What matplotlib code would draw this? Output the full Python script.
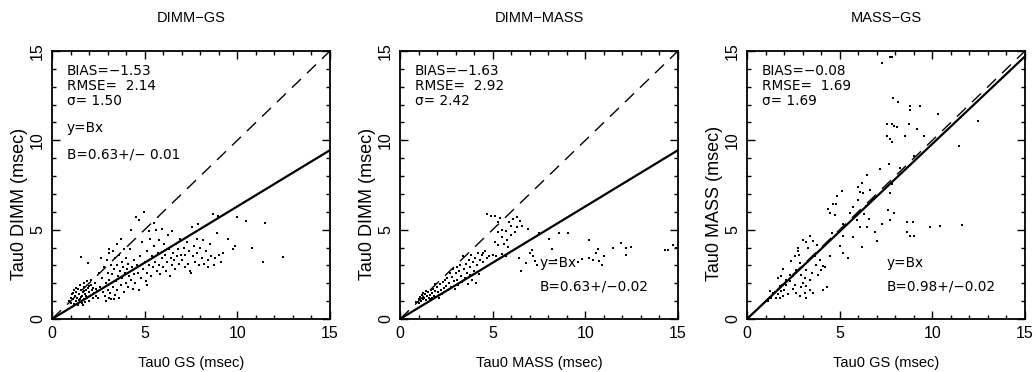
import matplotlib
matplotlib.use("Agg")
import matplotlib.pyplot as plt
from matplotlib.ticker import MultipleLocator
import numpy as np

plt.rcParams['font.family'] = ['Liberation Sans', 'DejaVu Sans']

titles = ["DIMM\u2212GS", "DIMM\u2212MASS", "MASS\u2212GS"]
xlabels = ["Tau0 GS (msec)", "Tau0 MASS (msec)", "Tau0 GS (msec)"]
ylabels = ["Tau0 DIMM (msec)", "Tau0 DIMM (msec)", "Tau0 MASS (msec)"]
bias = ["\u22121.53", "\u22121.63", "\u22120.08"]
rmse = ["2.14", "2.92", "1.69"]
sigma = ["1.50", "2.42", "1.69"]
slopes = [0.63, 0.63, 0.98]
slope_txt = ["B=0.63+/\u2212 0.01", "B=0.63+/\u22120.02", "B=0.98+/\u22120.02"]
tick_vals = [0, 5, 10, 15]

# Panel 1: DIMM vs GS
p1 = [
 (0.9,1.0),(1.0,1.2),(1.05,0.9),(1.1,1.4),(1.15,1.1),(1.2,1.6),(1.2,0.85),(1.25,1.3),(1.3,1.0),(1.3,1.5),
 (1.35,1.2),(1.4,1.7),(1.4,0.8),(1.45,1.4),(1.5,1.1),(1.5,1.9),(1.55,1.6),(1.6,0.9),(1.6,1.3),(1.65,1.5),
 (1.7,1.8),(1.7,1.1),(1.75,2.0),(1.8,1.4),(1.8,0.95),(1.85,1.6),(1.9,1.2),(1.9,2.1),(1.95,1.75),(2.0,1.5),
 (2.0,1.0),(2.05,1.3),(2.1,1.9),(2.1,2.2),(2.15,1.6),(2.2,1.2),(2.25,1.45),(2.3,2.0),(2.35,1.7),(2.4,1.3),
 (1.3,1.75),(1.55,1.25),(1.75,1.55),(2.0,1.85),(1.15,1.45),(1.45,1.05),(1.65,0.8),(1.85,1.3),(2.2,1.75),(2.45,1.55),
 (1.56,3.46),(1.92,3.16),
 (2.5,1.2),(2.55,2.6),(2.6,1.8),(2.7,2.3),(2.75,1.5),(2.8,2.9),(2.85,1.3),(2.9,2.0),(2.95,3.3),(3.0,1.6),
 (3.0,2.6),(3.05,1.2),(3.1,3.7),(3.1,2.2),(3.15,1.45),(3.2,3.0),(3.2,1.1),(3.25,2.5),(3.3,3.8),(3.3,1.8),
 (3.35,2.8),(3.4,1.35),(3.4,3.4),(3.45,2.1),(3.5,1.6),(3.5,3.0),(3.55,2.4),(3.6,3.6),(3.6,1.2),(3.65,2.7),
 (3.7,4.47),(3.7,1.9),(3.75,3.2),(3.8,2.3),(3.85,2.9),(3.9,1.5),(3.9,3.9),(3.95,2.6),(4.0,3.4),(4.0,2.0),
 (4.05,2.8),(4.1,1.8),(4.1,3.1),(4.15,2.4),(4.2,3.9),(4.25,2.2),(4.3,2.9),(4.35,1.7),(4.4,3.3),(4.45,2.5),
 (4.26,4.99),(3.51,4.18),(2.65,3.4),(2.9,1.0),(3.35,1.1),(3.05,3.9),
 (4.5,2.0),(4.54,5.69),(4.6,3.0),(4.65,2.6),(4.72,5.55),(4.75,3.5),(4.8,2.3),(4.85,4.3),(4.9,2.8),(4.99,5.97),
 (5.0,3.2),(5.05,2.1),(5.1,3.8),(5.15,2.6),(5.21,4.93),(5.25,3.0),(5.3,4.5),(5.35,2.4),(5.4,3.5),(5.45,2.9),
 (5.48,5.40),(5.5,4.1),(5.55,3.2),(5.59,4.99),(5.65,2.7),(5.7,3.7),(5.75,4.4),(5.8,3.0),(5.85,2.5),(5.93,5.06),
 (5.95,3.4),(6.0,2.9),(6.05,4.2),(6.1,3.6),(6.15,2.7),(6.2,3.2),(6.25,4.7),(6.3,3.9),(6.35,2.4),(6.4,3.4),
 (6.45,4.9),(6.5,3.0),(6.55,3.7),(6.6,3.3),(6.65,2.8),(6.7,4.2),(6.75,3.5),(6.8,3.9),(6.85,3.1),(6.9,4.5),
 (6.95,3.6),(5.1,1.9),(4.7,1.6),
 (7.0,3.3),(7.1,4.0),(7.15,2.9),(7.2,3.6),(7.3,4.3),(7.35,3.1),(7.4,3.8),(7.45,2.7),(7.54,5.17),(7.6,3.5),
 (7.65,4.1),(7.7,3.2),(7.8,4.5),(7.85,3.7),(7.9,5.32),(7.95,3.0),(8.0,4.0),(8.1,3.4),(8.15,4.4),(8.2,3.1),
 (8.3,3.8),(8.4,3.3),(8.5,4.2),(8.6,3.5),(8.71,5.88),(8.75,3.0),(8.8,3.4),(8.89,4.80),(8.93,5.77),(9.0,3.6),
 (9.1,3.2),(9.25,3.69),(9.47,4.47),(9.79,3.91),(9.90,4.09),(9.97,5.73),(8.4,2.9),(7.5,2.6),
 (10.47,5.51),(10.78,3.96),(11.41,3.20),(11.51,5.38),(12.45,3.46),
]

# Panel 2: DIMM vs MASS
p2 = [
 (0.85,0.95),(1.0,1.1),(1.05,0.9),(1.1,1.25),(1.15,1.0),(1.2,1.35),(1.25,1.1),(1.3,1.2),(1.35,1.4),(1.4,1.05),
 (1.45,1.3),(1.5,1.5),(1.55,1.2),(1.6,1.35),(1.65,1.6),(1.7,1.15),(1.75,1.45),(1.8,1.7),(1.85,1.3),(1.9,1.55),
 (1.95,1.25),(2.0,1.8),(2.05,1.5),(2.1,1.35),(2.15,1.95),(2.2,1.6),(2.25,1.4),(2.3,2.05),(2.35,1.75),(2.4,1.5),
 (2.45,2.2),(2.5,1.85),(1.25,1.45),(1.6,1.1),(1.9,1.95),(2.1,1.2),(1.4,1.55),
 (2.55,2.3),(2.6,1.6),(2.65,2.0),(2.7,2.6),(2.75,1.8),(2.8,2.35),(2.85,2.8),(2.9,2.1),(2.95,1.7),(3.0,2.55),
 (3.05,2.9),(3.1,2.2),(3.15,1.9),(3.2,2.7),(3.25,3.0),(3.3,2.4),(3.35,2.05),(3.4,3.5),(3.45,2.8),(3.5,2.3),
 (3.55,3.1),(3.6,2.6),(3.65,1.95),(3.7,3.3),(3.75,2.45),(3.8,2.9),(3.85,3.6),(3.9,2.2),(3.95,3.2),(4.0,2.7),
 (4.05,3.4),(4.1,2.0),(4.15,3.0),(4.2,3.7),(4.25,2.5),(4.3,3.3),(4.4,3.6),(4.5,3.2),(4.6,3.8),(4.7,3.4),
 (4.70,5.88),(4.9,5.75),(5.15,5.77),(5.42,5.64),(5.3,5.45),(5.87,5.45),(6.1,5.6),(6.3,5.7),(6.45,5.5),(6.0,5.2),
 (6.3,5.15),(6.6,5.2),(6.9,5.05),(5.51,4.99),(5.7,4.9),(5.3,4.87),(5.5,4.6),(5.8,4.4),(5.6,4.2),(5.85,4.05),
 (5.3,4.14),(6.0,4.7),(6.2,4.85),(5.1,4.3),(4.8,3.55),(5.0,3.6),(5.2,3.5),(5.5,3.65),(5.7,3.55),(4.49,3.69),
 (6.42,3.41),(6.54,2.66),(6.78,3.13),(7.14,3.87),(7.0,3.7),(7.2,3.5),(7.41,3.03),(7.3,3.25),(7.5,4.8),
 (8.04,4.47),(8.2,3.9),(8.58,4.84),(8.4,3.3),(9.04,4.80),(9.6,3.2),(9.8,3.35),(10.21,4.43),(10.21,3.41),(10.4,3.3),
 (10.57,3.69),(10.75,3.22),(10.7,3.9),(11.02,3.50),(10.9,3.05),(11.48,3.96),(11.93,4.24),(12.2,3.96),(12.46,4.05),(12.2,3.59),
 (14.28,3.87),(14.46,3.87),(14.73,4.15),(14.9,4.0),
]

# Panel 3: MASS vs GS
p3 = [
 (7.31,14.33),(7.71,14.67),(7.85,14.67),(7.89,12.38),(8.16,12.15),(8.79,11.91),(9.33,11.91),(8.79,11.69),
 (7.53,10.94),(7.8,10.9),(7.95,10.8),(8.07,10.76),(8.75,10.94),(8.52,10.24),(9.15,10.63),(7.53,10.24),
 (7.7,10.1),(7.85,9.92),(9.54,10.24),(10.32,11.48),(11.45,9.68),(12.48,11.09),(9.0,9.1),
 (7.2,8.39),(7.64,8.67),(8.25,8.47),(7.85,7.56),(7.71,7.04),(7.62,6.1),(7.71,5.55),(7.92,5.96),
 (8.61,5.42),(8.93,5.42),(8.61,4.89),(8.79,4.67),(9.0,4.62),(9.9,5.14),(10.44,5.23),(11.58,5.27),(7.31,5.32),
 (6.45,8.08),(6.18,7.59),(6.0,7.4),(6.63,7.22),(6.27,7.04),(6.72,6.66),(6.0,6.66),(6.1,7.1),(6.4,6.3),
 (5.1,7.18),(4.83,6.89),(4.65,6.44),(4.38,6.14),(4.47,5.92),(4.74,5.83),(4.8,6.45),
 (5.73,6.29),(5.55,5.92),(5.91,5.55),(6.09,5.17),(6.45,5.17),(6.9,4.89),(7.02,4.34),(6.3,5.9),(6.6,5.6),
 (5.73,4.58),(5.19,4.62),(5.01,4.06),(5.19,3.69),(5.46,3.41),(6.18,4.02),(5.19,5.30),(4.6,4.8),
 (2.75,4.0),(2.75,3.78),(3.03,4.43),(3.39,4.62),(3.57,4.34),(3.3,3.96),(3.75,4.15),(3.2,4.3),(2.8,3.6),
 (3.66,3.5),(3.93,3.31),(4.1,2.94),(4.0,2.75),(3.84,2.48),(4.29,1.79),(4.1,1.64),(4.5,3.5),(4.2,2.9),
 (3.39,2.2),(3.03,2.01),(3.21,1.82),(3.39,1.64),(3.57,1.45),(3.12,1.45),(2.67,1.45),(2.85,1.27),(3.21,1.17),
 (2.49,2.38),(2.31,2.1),(2.13,1.92),(1.77,1.82),(1.86,1.55),(1.68,1.41),(1.95,1.27),(1.59,1.17),(1.41,1.45),
 (1.23,1.55),(1.32,1.17),(1.14,0.99),(1.86,2.42),(1.68,2.29),(1.95,2.79),(2.13,2.2),(2.31,2.48),
 (2.4,3.22),(2.58,3.5),(2.85,3.13),(3.03,2.94),(3.21,2.75),(2.67,2.75),(2.94,2.48),(3.12,2.29),
 (2.0,1.6),(2.2,1.4),(1.9,1.9),(2.6,1.9),(3.5,2.6),(3.7,3.0),(2.5,1.7),(1.5,1.5),(1.8,1.2),(2.9,1.8),
]
data = [p1, p2, p3]

# y=Bx annotation positions (data coords) per panel
ybx_pos = [(0.8, 10.7), (7.55, 3.15), (7.55, 3.15)]
bval_pos = [(0.8, 9.2), (7.55, 1.8), (7.55, 1.8)]

W, H = 1036, 372
fig = plt.figure(figsize=(W / 100, H / 100), dpi=100)
lefts = [52, 400, 747]
ax_w, ax_h = 278, 268
ax_bottom_px = 319
txt_font = ['DejaVu Sans']
txt_size = 9.8

for i in range(3):
    ax = fig.add_axes([lefts[i] / W, (H - ax_bottom_px) / H, ax_w / W, ax_h / H])
    pts = np.array(data[i])
    ax.plot(pts[:, 0], pts[:, 1], linestyle='none', marker='s', ms=1.9,
            mfc='black', mec='black', mew=0)
    xx = np.array([0, 15])
    ax.plot(xx, xx, color='black', lw=1.0, dashes=(9, 6))
    ax.plot(xx, slopes[i] * xx, color='black', lw=1.6)
    ax.set_xlim(0, 15)
    ax.set_ylim(0, 15)
    ax.xaxis.set_minor_locator(MultipleLocator(1))
    ax.yaxis.set_minor_locator(MultipleLocator(1))
    ax.set_xticks(tick_vals)
    ax.set_yticks(tick_vals)
    ax.tick_params(which='both', direction='in', top=True, right=True, width=1.0)
    ax.tick_params(which='major', length=6, labelsize=11.5, pad=5)
    ax.tick_params(which='minor', length=3)
    ax.tick_params(axis='y', labelrotation=90)
    for lab in ax.get_yticklabels():
        lab.set_va('center')
    for s in ax.spines.values():
        s.set_linewidth(1.3)
    ax.set_xlabel(xlabels[i], fontsize=10.5, labelpad=11)
    ax.set_ylabel(ylabels[i], fontsize=13)
    ax.yaxis.set_label_coords(-0.085, 0.43)
    ax.set_title(titles[i], fontsize=10.5, pad=21)
    tx = 0.8
    kw = dict(fontsize=txt_size, va='center', ha='left', family=txt_font)
    ax.text(tx, 13.9, "BIAS=" + bias[i], **kw)
    ax.text(tx, 13.05, "RMSE=  " + rmse[i], **kw)
    ax.text(tx, 12.2, "\u03c3= " + sigma[i], **kw)
    ax.text(ybx_pos[i][0], ybx_pos[i][1], "y=Bx", **kw)
    ax.text(bval_pos[i][0], bval_pos[i][1], slope_txt[i], **kw)

fig.savefig("out.png", dpi=100)
